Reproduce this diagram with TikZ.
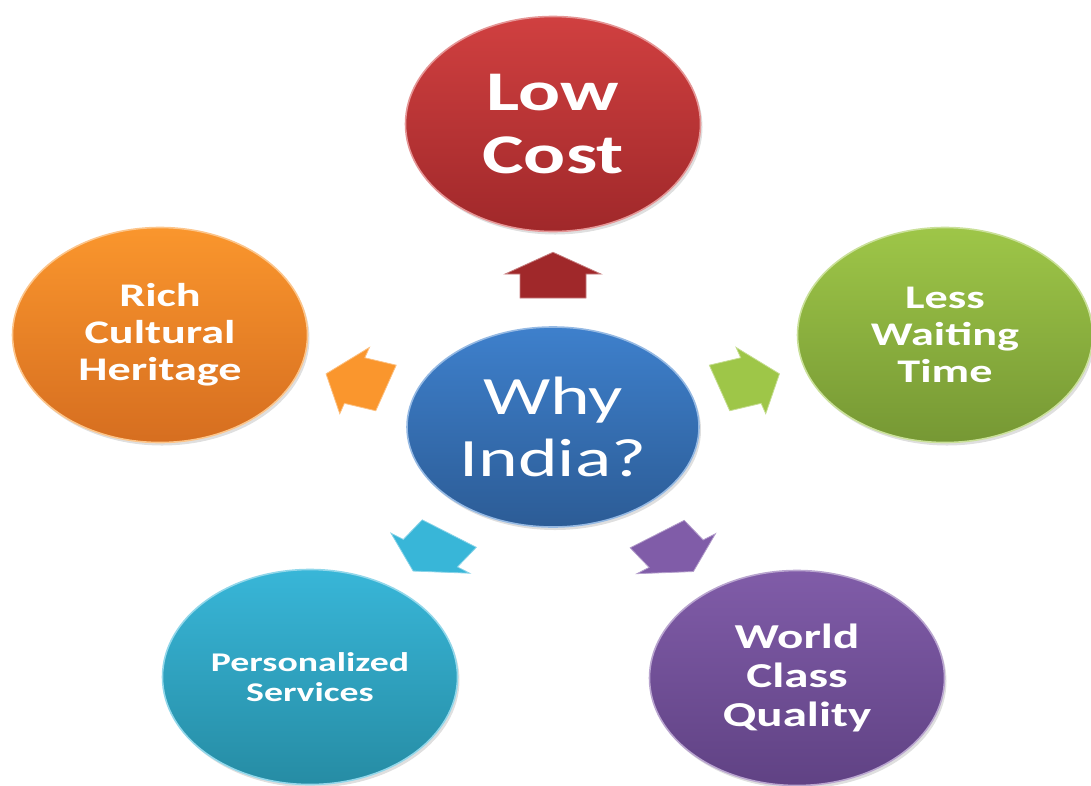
\documentclass[tikz,border=0pt]{standalone}
\usepackage{fontspec}
\usepackage{xcolor}
\usepackage{tikz}
\usetikzlibrary{shapes.geometric}
\usetikzlibrary{calc}
\usetikzlibrary{shadows}
\newfontfamily\bubblefont[FakeStretch=1.4]{Carlito}

\definecolor{lowtop}{RGB}{208,64,64}
\definecolor{lowbot}{RGB}{160,40,42}
\definecolor{richtop}{RGB}{250,150,45}
\definecolor{richbot}{RGB}{214,110,32}
\definecolor{lesstop}{RGB}{158,198,72}
\definecolor{lessbot}{RGB}{118,152,52}
\definecolor{whytop}{RGB}{62,128,204}
\definecolor{whybot}{RGB}{44,92,150}
\definecolor{perstop}{RGB}{56,182,216}
\definecolor{persbot}{RGB}{38,140,164}
\definecolor{worldtop}{RGB}{128,92,168}
\definecolor{worldbot}{RGB}{96,66,132}

\tikzset{
	bubble/.style   = {shape=ellipse, line width=1.6pt, inner sep=0pt,
		minimum width=295pt, minimum height=215pt,
		align=center, text=white,
		drop shadow={opacity=0.25, shadow xshift=2pt, shadow yshift=-3pt}},
	colbub/.style   = {bubble, top color=#1top, bottom color=#1bot, draw=#1top!55!white},
	bigtext/.style  = {font=\bubblefont\fontsize{54}{62}\selectfont},
	boldtext/.style = {font=\bubblefont\bfseries\fontsize{#1}{1.12\dimexpr#1pt\relax}\selectfont},
	pics/blockarrow/.style 2 args = {code = {
		\begin{scope}[yscale=0.726]
		\begin{scope}[rotate=#1]
		\filldraw[fill=#2, draw=#2!60!white, line width=0.8pt]
			(-31,-33) -- (2,-33) -- (2,-48) -- (32,0) -- (2,48) -- (2,33) -- (-31,33) -- cycle;
		\end{scope}
		\end{scope}
	}}
}

\begin{document}
\begin{tikzpicture}[x=1pt, y=1pt]
\useasboundingbox (0,0) rectangle (1091,-785);

% bubbles
\node [colbub=low, boldtext=56] (low) at (553,-124) {Low\\Cost};
\node [colbub=why, bigtext, minimum width=292pt, minimum height=200pt] (why) at (553,-427) {Why\\India?};
\node [colbub=rich, boldtext=33] (rich) at (160,-335) {Rich\\Cultural\\Heritage};
\node [colbub=less, boldtext=33] (less) at (945,-335) {Less\\Waiting\\Time};
\node [colbub=pers, boldtext=27] (pers) at (310,-677) {Personalized\\Services};
\node [colbub=world, boldtext=35] (world) at (797,-678) {World\\Class\\Quality};

% arrows
\pic at ($(why)!0.5!(low)$) {blockarrow={90}{lowbot}};
\pic at ($(why)!0.5!(rich)$) {blockarrow={162}{richtop}};
\pic at ($(why)!0.5!(less)$) {blockarrow={18}{lesstop}};
\pic at ($(why)!0.5!(pers)$) {blockarrow={235}{perstop}};
\pic at ($(why)!0.5!(world)$) {blockarrow={305}{worldtop}};
\end{tikzpicture}
\end{document}
